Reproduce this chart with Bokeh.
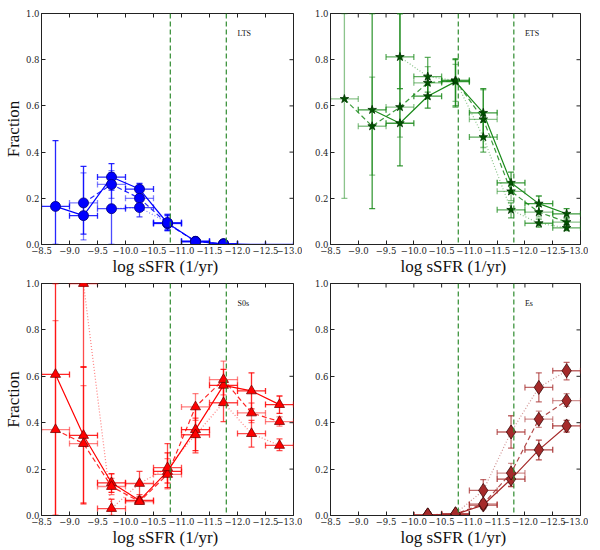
import numpy as np
from bokeh.plotting import figure
from bokeh.models import (ColumnDataSource, Whisker, TeeHead, Range1d, FixedTicker,
                          Span, Label)
from bokeh.layouts import row, column
from bokeh.embed import file_html
from bokeh.resources import INLINE

nan = np.nan

# ---------------- data ----------------
bin_centers = [-8.75, -9.25, -9.75, -10.25, -10.75, -11.25, -11.75, -12.25, -12.75]
bin_half = 0.25

x_ticks = [-8.5, -9.0, -9.5, -10.0, -10.5, -11.0, -11.5, -12.0, -12.5, -13.0]
x_tick_labels = ["\u22128.5", "\u22129.0", "\u22129.5", "\u221210.0", "\u221210.5",
                 "\u221211.0", "\u221211.5", "\u221212.0", "\u221212.5", "\u221213.0"]
y_ticks = [0.0, 0.2, 0.4, 0.6, 0.8, 1.0]
y_tick_labels = ["0.0", "0.2", "0.4", "0.6", "0.8", "1.0"]
ssfr_limits = [-10.8, -11.8]

# LTS
lts_solid = [0.165, 0.125, 0.292, 0.240, 0.092, 0.014, 0.003, 0.0, 0.0]
lts_solid_lo = [0.0, 0.045, 0.235, 0.215, 0.060, 0.004, 0.0, 0.0, 0.0]
lts_solid_hi = [0.45, 0.338, 0.35, 0.265, 0.125, 0.024, 0.008, 0.0, 0.0]
lts_dash = [nan, 0.180, 0.260, 0.200, 0.090, 0.013, 0.003, nan, nan]
lts_dash_lo = [nan, 0.020, 0.200, 0.170, 0.060, 0.004, 0.0, nan, nan]
lts_dash_hi = [nan, 0.310, 0.320, 0.230, 0.130, 0.022, 0.006, nan, nan]
lts_dot = [nan, nan, 0.155, 0.160, 0.095, 0.012, 0.002, nan, nan]
lts_dot_lo = [nan, nan, 0.0, 0.120, 0.065, 0.004, 0.0, nan, nan]
lts_dot_hi = [nan, nan, 0.310, 0.200, 0.130, 0.020, 0.005, nan, nan]

# ETS
ets_solid = [nan, 0.583, 0.525, 0.642, 0.705, 0.570, 0.267, 0.177, 0.133]
ets_solid_lo = [nan, 0.155, 0.340, 0.590, 0.600, 0.465, 0.225, 0.145, 0.115]
ets_solid_hi = [nan, 1.0, 1.0, 0.690, 0.800, 0.675, 0.313, 0.210, 0.155]
ets_dash = [0.630, 0.512, 0.595, 0.700, 0.710, 0.542, 0.230, 0.140, 0.097]
ets_dash_lo = [0.200, 0.300, 0.465, 0.630, 0.620, 0.420, 0.190, 0.120, 0.085]
ets_dash_hi = [1.0, 0.725, 0.675, 0.770, 0.780, 0.670, 0.270, 0.165, 0.110]
ets_dot = [nan, nan, 0.812, 0.727, 0.710, 0.465, 0.150, 0.092, 0.072]
ets_dot_lo = [nan, nan, 0.675, 0.660, 0.595, 0.400, 0.115, 0.075, 0.060]
ets_dot_hi = [nan, nan, 1.0, 0.810, 0.805, 0.530, 0.180, 0.110, 0.085]

# S0s
s0_solid = [0.608, 0.345, 0.141, 0.065, 0.190, 0.370, 0.561, 0.537, 0.478]
s0_solid_lo = [0.0, 0.050, 0.100, 0.055, 0.120, 0.280, 0.490, 0.460, 0.440]
s0_solid_hi = [1.0, 0.640, 0.180, 0.080, 0.270, 0.460, 0.630, 0.615, 0.515]
s0_dash = [0.370, 0.310, 0.125, 0.060, 0.177, 0.468, 0.586, 0.442, 0.405]
s0_dash_lo = [0.0, 0.055, 0.090, 0.050, 0.115, 0.410, 0.520, 0.400, 0.385]
s0_dash_hi = [0.840, 0.560, 0.160, 0.075, 0.245, 0.525, 0.665, 0.485, 0.425]
s0_dot = [nan, 1.0, 0.030, 0.138, 0.206, 0.348, 0.486, 0.353, 0.302]
s0_dot_lo = [nan, 0.640, 0.0, 0.090, 0.140, 0.270, 0.405, 0.295, 0.280]
s0_dot_hi = [nan, 1.0, 0.070, 0.190, 0.310, 0.420, 0.565, 0.410, 0.330]

# Es
es_solid = [nan, nan, nan, 0.002, 0.005, 0.045, 0.157, 0.283, 0.386]
es_solid_lo = [nan, nan, nan, 0.0, 0.0, 0.030, 0.125, 0.240, 0.360]
es_solid_hi = [nan, nan, nan, 0.005, 0.010, 0.060, 0.190, 0.325, 0.410]
es_dash = [nan, nan, nan, 0.002, 0.006, 0.050, 0.183, 0.415, 0.495]
es_dash_lo = [nan, nan, nan, 0.0, 0.0, 0.035, 0.140, 0.380, 0.470]
es_dash_hi = [nan, nan, nan, 0.005, 0.012, 0.065, 0.225, 0.450, 0.525]
es_dot = [nan, nan, nan, 0.003, 0.008, 0.108, 0.360, 0.552, 0.624]
es_dot_lo = [nan, nan, nan, 0.0, 0.0, 0.065, 0.290, 0.490, 0.585]
es_dot_hi = [nan, nan, nan, 0.006, 0.015, 0.155, 0.430, 0.615, 0.660]

panels = [
    dict(name="LTS", color="#0000ff", edge="#00007a", marker="circle", size=10,
         series=[(lts_solid, lts_solid_lo, lts_solid_hi),
                 (lts_dash, lts_dash_lo, lts_dash_hi),
                 (lts_dot, lts_dot_lo, lts_dot_hi)]),
    dict(name="ETS", color="#1a8a1a", edge="#003300", marker="star", size=9, fill="#005500",
         series=[(ets_solid, ets_solid_lo, ets_solid_hi),
                 (ets_dash, ets_dash_lo, ets_dash_hi),
                 (ets_dot, ets_dot_lo, ets_dot_hi)]),
    dict(name="S0s", color="#ff0000", edge="#7a0000", marker="triangle", size=10,
         series=[(s0_solid, s0_solid_lo, s0_solid_hi),
                 (s0_dash, s0_dash_lo, s0_dash_hi),
                 (s0_dot, s0_dot_lo, s0_dot_hi)]),
    dict(name="Es", color="#a52a2a", edge="#3a0a0a", marker="diamond", size=14,
         series=[(es_solid, es_solid_lo, es_solid_hi),
                 (es_dash, es_dash_lo, es_dash_hi),
                 (es_dot, es_dot_lo, es_dot_hi)]),
]

styles = [dict(dash="solid", line_alpha=1.0, err_alpha=0.85),
          dict(dash="5 3", line_alpha=0.85, err_alpha=0.5),
          dict(dash="1 2", line_alpha=0.5, err_alpha=0.7)]

TICK_FONT = "DejaVu Serif"
LABEL_FONT = "Liberation Serif"
AX = "#222222"


def make_panel(idx, panel):
    left_col = idx % 2 == 0
    top_row = idx < 2
    p = figure(
        x_range=Range1d(-8.5, -13.0), y_range=Range1d(0.0, 1.0),
        frame_width=252 if left_col else 250,
        frame_height=231 if top_row else 232,
        min_border_left=39 if left_col else 28,
        min_border_right=9 if left_col else 8,
        min_border_top=13 if top_row else 5,
        min_border_bottom=34 if top_row else 31,
        output_backend="svg", toolbar_location=None,
        background_fill_color="white", border_fill_color="white",
    )
    p.grid.visible = False
    p.outline_line_color = AX
    p.outline_line_width = 1

    for ax in p.xaxis:
        ax.ticker = FixedTicker(ticks=x_ticks)
        ax.major_label_overrides = dict(zip(x_ticks, x_tick_labels))
        ax.axis_label = "log  sSFR (1/yr)"
    for ax in p.yaxis:
        ax.ticker = FixedTicker(ticks=y_ticks)
        ax.major_label_overrides = dict(zip(y_ticks, y_tick_labels))
        ax.axis_label = "Fraction" if left_col else None
    for ax in list(p.xaxis) + list(p.yaxis):
        ax.major_tick_in = 4
        ax.major_tick_out = 0
        ax.minor_tick_line_color = None
        ax.axis_line_color = AX
        ax.major_tick_line_color = AX
        ax.major_label_text_font = TICK_FONT
        ax.major_label_text_font_size = "8.5px"
        ax.major_label_text_color = AX
        ax.major_label_standoff = 2
        ax.axis_label_text_font = LABEL_FONT
        ax.axis_label_text_font_size = "17px"
        ax.axis_label_text_font_style = "normal"
        ax.axis_label_text_color = "#111111"
        ax.axis_label_standoff = 0

    # inward ticks on the top and right edges (half of each dash is clipped by the frame)
    p.scatter(x_ticks, [1.0] * len(x_ticks), marker="dash", angle=np.pi / 2, size=8,
              line_color=AX, line_width=1)
    p.scatter([-13.0] * len(y_ticks), y_ticks, marker="dash", size=8,
              line_color=AX, line_width=1)

    for loc in ssfr_limits:
        p.add_layout(Span(location=loc, dimension="height", line_color="#2e8b2e",
                          line_dash="5 3", line_width=1.2))

    color = panel["color"]
    fill = panel.get("fill", color)
    for (vals, lo, hi), st in zip(panel["series"], styles):
        x = np.array(bin_centers)
        y = np.array(vals, dtype=float)
        ylo = np.array(lo, dtype=float)
        yhi = np.array(hi, dtype=float)
        ok = ~np.isnan(y)
        src_all = ColumnDataSource(dict(x=x[ok], y=y[ok], xl=x[ok] + bin_half,
                                        xr=x[ok] - bin_half))
        pos = ok & (np.nan_to_num(y) > 0)
        src_pos = ColumnDataSource(dict(x=x[pos], y=y[pos], lo=ylo[pos], hi=yhi[pos]))

        ea = st["err_alpha"]
        p.add_layout(Whisker(source=src_all, base="y", lower="xl", upper="xr",
                             dimension="width", line_color=color, line_alpha=ea,
                             line_width=1.3,
                             upper_head=TeeHead(size=6, line_color=color, line_alpha=ea, line_width=1.3),
                             lower_head=TeeHead(size=6, line_color=color, line_alpha=ea, line_width=1.3)))
        p.add_layout(Whisker(source=src_pos, base="x", lower="lo", upper="hi",
                             dimension="height", line_color=color, line_alpha=ea,
                             line_width=1.3,
                             upper_head=TeeHead(size=6, line_color=color, line_alpha=ea, line_width=1.3),
                             lower_head=TeeHead(size=6, line_color=color, line_alpha=ea, line_width=1.3)))
        p.line("x", "y", source=src_all, line_color=color, line_alpha=st["line_alpha"],
               line_dash=st["dash"], line_width=1.2)
        p.scatter("x", "y", source=src_pos, marker=panel["marker"], size=panel["size"],
                  fill_color=fill, line_color=panel["edge"], line_width=0.8)

    p.add_layout(Label(x=-12.0, y=0.913, text=panel["name"], text_font=LABEL_FONT,
                       text_font_size="8px", text_baseline="middle", text_align="left",
                       text_color="#111111"))
    return p


figs = [make_panel(i, pn) for i, pn in enumerate(panels)]
layout = column(row(figs[0], figs[1]), row(figs[2], figs[3]))

open("out.html", "w").write(file_html(layout, INLINE))
